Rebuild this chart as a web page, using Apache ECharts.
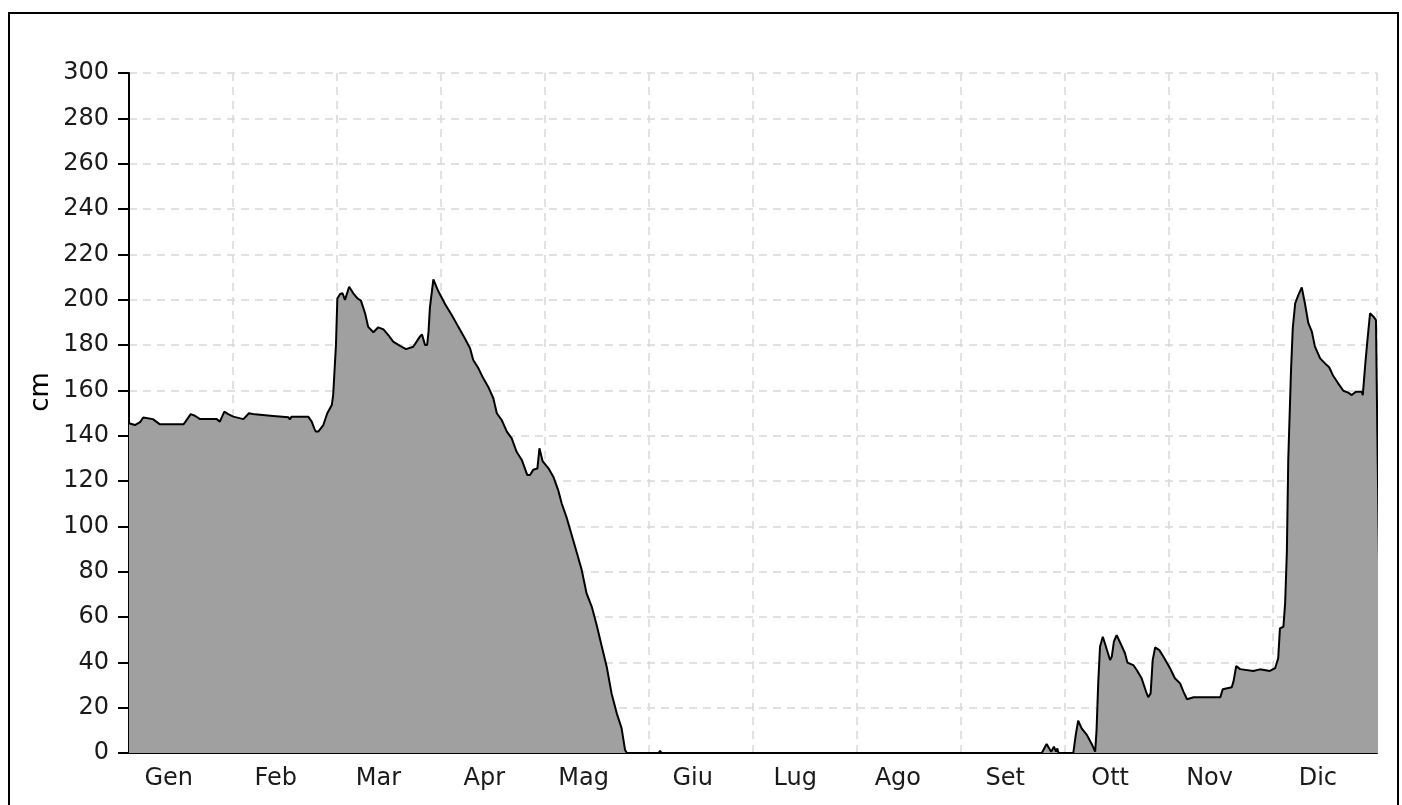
<!DOCTYPE html>
<html>
<head>
<meta charset="utf-8">
<script src="https://cdn.jsdelivr.net/npm/echarts@6/dist/echarts.min.js"></script>
<style>
html,body{margin:0;padding:0;background:#fff;}
#chart{width:1402px;height:805px;}
</style>
</head>
<body>
<div id="chart"></div>
<script>
// Month tick labels
var months = ['Gen','Feb','Mar','Apr','Mag','Giu','Lug','Ago','Set','Ott','Nov','Dic'];

// Day position (30-day month units)
var days = [
  0,1.7,3.2,4.1,6.9,8.9,15.7,16.2,17.8,19,20.5,25.3,26.2,27.5,28.6,30.1,33,34.6,36.3,41.6,
  46,46.4,46.9,51.7,52.7,53.5,53.9,54.6,56,57.2,58.5,58.9,59.7,60.1,60.9,61.6,62.3,63.5,64.7,65.9,
  66.9,68.1,69,70.5,71.9,73.4,74.8,76.2,78.2,79.9,82,83.9,84.5,85.4,86,86.4,86.8,87.8,89.2,91.2,
  93.1,95,96.9,98.4,99.3,100.8,102.2,103.6,105.1,106.1,107.5,109,110.4,111.8,113.3,114.9,115.7,116.6,117.8,118.4,
  119.3,121,122.4,123.8,124.8,126.3,127.7,129.1,130.6,132,133.5,134.9,136.4,137.8,139.2,140.7,142.1,143.1,143.6,152.8,
  153.2,153.6,263.3,264.7,265.2,266,266.8,267.4,267.8,268.1,272.4,273.1,273.8,274.8,276.3,277.7,278.7,279.1,279.6,280.1,
  280.9,281.5,283,283.5,284.1,284.9,286.1,287.3,288,289.7,290.7,292.1,293.4,294,294.7,295.3,296,297.2,298.4,300.3,
  301.7,303.2,304.2,305.2,307.1,314.8,315.5,318.1,318.6,319.4,320.5,324.3,326.2,329.1,330.6,331.5,332,333,333.5,334,
  334.4,335.2,335.7,336.4,337.3,338.3,339.2,340.2,341.2,342.1,343.6,345,346.2,347.4,348.8,350.3,351.7,352.7,353.9,355.6,
  355.9,356.6,357.2,358,359,359.7,360.1,360.9,361.2
];
// Snow depth (cm)
var depth = [
  145.5,144.7,146,148,147.3,145,145,146,149.5,148.8,147.3,147.3,146.2,150.6,149.5,148.4,147.3,149.9,149.4,148.7,
  148.1,147.2,148.4,148.4,146.2,143,141.8,141.8,144.5,149.9,153.5,158,180,200.5,202.5,202.8,199.9,205.7,202.8,200.6,
  199.6,194,188,185.6,187.8,186.9,184.4,181.5,179.6,178.2,179.2,183.7,184.7,180,180,185.9,196.5,209,203.8,198,
  193.2,188,182.9,178.5,173.4,169.7,165.3,161.6,156.5,149.9,146.9,141.8,138.8,132.9,129.3,122.6,122.6,125,125.5,134.4,
  128.8,125.6,121.9,116,110.2,103.6,96.2,88.8,80.7,70.4,64.5,56.5,46.9,38.1,26.3,17.5,10.9,1.3,0,0,
  1,0,0,4,4.3,0.6,2.8,0.6,2,0,0,8,14.3,10.9,8,4,0.6,10,31.5,46.9,
  51.3,48.4,41,42.5,49.1,52,48.1,44,39.9,38.8,36.6,33,27,24.6,26.3,41,46.6,45.4,42.5,37.4,
  33,30.7,27,23.7,24.6,24.6,28.1,29,31.5,38.4,37,36.2,36.9,36.2,37.4,41.8,55,55.7,66,88.8,
  129.3,169,187.4,198.4,202,205.4,198.4,189.6,185.9,179.3,174.1,171.9,170.2,166.3,163.1,159.8,159,157.9,159.4,159.4,
  157.9,171.2,181.5,194,192.5,191,141,46.9,0
];
// Y axis ticks
var yMin = 0, yMax = 300, yStep = 20;
var yName = 'cm';

var seriesData = days.map(function (d, i) { return [d, depth[i]]; });

var FONT = 'DejaVu Sans';
var chart = echarts.init(document.getElementById('chart'), null, {renderer: 'canvas'});
chart.setOption({
  animation: false,
  backgroundColor: '#ffffff',
  graphic: [{
    type: 'rect', silent: true, z: 100,
    shape: {x: 9, y: 13, width: 1389, height: 900},
    style: {fill: 'none', stroke: '#000', lineWidth: 2}
  }, {
    type: 'text', silent: true, z: 100,
    x: 41, y: 392, rotation: Math.PI / 2,
    style: {text: yName, fontSize: 26, fontFamily: FONT, fill: '#000', align: 'center', verticalAlign: 'middle'}
  }],
  grid: {left: 129, top: 73, right: 25, bottom: 52, containLabel: false},
  xAxis: {
    type: 'value', min: 0, max: 360, interval: 30,
    axisLine: {show: true, onZero: false, lineStyle: {color: '#000', width: 2}},
    axisTick: {show: false},
    splitLine: {show: true, lineStyle: {type: [8, 6], color: '#d8d8d8', width: 1.5}},
    axisLabel: {
      show: true, margin: 14, align: 'left', padding: [0, 0, 0, 14],
      showMinLabel: true, showMaxLabel: false,
      formatter: function (v) {
        var i = Math.round(v / 30);
        return i < months.length ? '{m|' + months[i] + '}' : '';
      },
      rich: {m: {width: 50, align: 'right', fontSize: 24, fontFamily: FONT, color: '#1a1a1a'}}
    }
  },
  yAxis: {
    type: 'value', min: yMin, max: yMax, interval: yStep,
    axisLine: {show: true, lineStyle: {color: '#000', width: 2}},
    axisTick: {show: true, length: 11, lineStyle: {color: '#000', width: 2}},
    splitLine: {show: true, lineStyle: {type: [8, 6], color: '#d8d8d8', width: 1.5}},
    axisLabel: {margin: 20, fontSize: 24, fontFamily: FONT, color: '#1a1a1a'}
  },
  series: [{
    type: 'line', data: seriesData, clip: false,
    symbol: 'none', smooth: false,
    lineStyle: {color: '#000', width: 2},
    areaStyle: {color: '#a0a0a0', opacity: 1},
    z: 3
  }]
});
</script>
</body>
</html>
